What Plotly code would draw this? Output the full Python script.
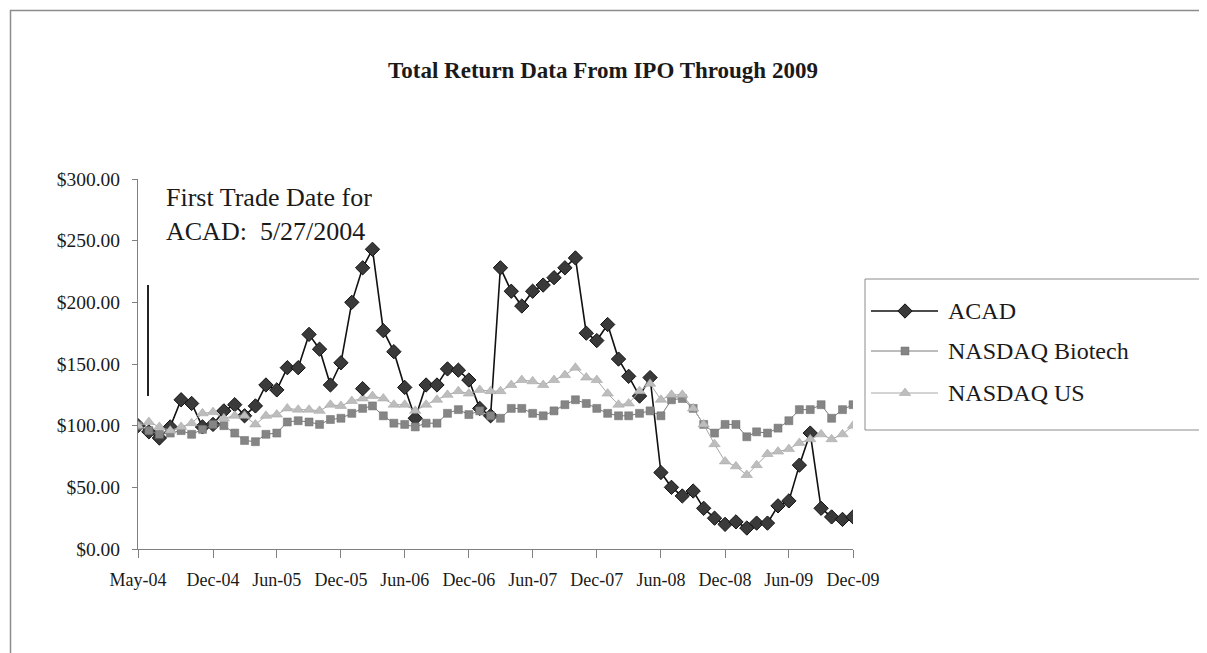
import pandas as pd
import plotly.graph_objects as go

# ---- data ----
months = pd.date_range("2004-05-01", "2009-12-01", freq="MS")

acad = [100, 95, 90, 99, 121, 118, 99, 101, 112, 117, 108, 116, 133, 129, 147, 147, 174, 162, 133, 151,
        200, 228, 243, 177, 160, 131, 106, 133, 133, 146, 145, 137, 114, 108, 228, 209, 197, 209, 214, 220,
        228, 236, 175, 169, 182, 154, 140, 124, 139, 62, 50, 43, 47, 33, 25, 20, 22, 17, 21, 21,
        35, 39, 68, 94, 33, 26, 24, 26]
biotech = [100, 96, 93, 94, 96, 93, 97, 101, 100, 94, 88, 87, 93, 94, 103, 104, 103, 101, 105, 106,
           110, 114, 116, 108, 102, 101, 99, 102, 102, 110, 113, 109, 112, 108, 106, 114, 114, 110, 108, 112,
           117, 121, 118, 114, 110, 108, 108, 110, 112, 108, 121, 122, 114, 101, 94, 101, 101, 91, 95, 94,
           98, 104, 113, 113, 117, 106, 113, 117]
nasdaq_us = [100, 103, 99, 96, 99, 102, 110, 111, 106, 108, 108, 101, 108, 109, 114, 113, 113, 112, 117, 116,
             120, 122, 124, 122, 117, 117, 112, 117, 121, 125, 128, 126, 129, 128, 128, 133, 137, 136, 133, 137,
             141, 147, 139, 137, 126, 117, 118, 128, 134, 121, 125, 125, 114, 101, 85, 71, 67, 60, 68, 77,
             79, 81, 86, 89, 93, 89, 93, 100]

# stray ACAD marker visible in the reference (Feb-06)
stray_x = ["2006-02-01"]
stray_y = [130]

series_names = ["ACAD", "NASDAQ Biotech", "NASDAQ US"]

tick_dates = ["2004-05-01", "2004-12-01", "2005-06-01", "2005-12-01", "2006-06-01", "2006-12-01",
              "2007-06-01", "2007-12-01", "2008-06-01", "2008-12-01", "2009-06-01", "2009-12-01"]
tick_text = ["May-04", "Dec-04", "Jun-05", "Dec-05", "Jun-06", "Dec-06",
             "Jun-07", "Dec-07", "Jun-08", "Dec-08", "Jun-09", "Dec-09"]
y_ticks = [0, 50, 100, 150, 200, 250, 300]
y_tick_text = ["$0.00", "$50.00", "$100.00", "$150.00", "$200.00", "$250.00", "$300.00"]

# ---- layout geometry (pixels) ----
W, H = 1207, 653
PX0, PX1, PY_TOP, PY_BOT = 130, 845, 171, 541          # plot area
LG_X0, LG_X1, LG_Y0, LG_Y1 = 857, 1197, 271, 422       # legend box

def fx(x):
    return x / W

def fy(y):
    return (H - y) / H

SERIF = "Liberation Serif, Times New Roman, serif"
TXT = "#1a1a1a"

styles = [
    dict(line=dict(color="#111111", width=1.6),
         marker=dict(symbol="diamond", size=11, color="#3a3a3a", line=dict(color="#111111", width=1))),
    dict(line=dict(color="#7a7a7a", width=1),
         marker=dict(symbol="square", size=8, color="#858585", line=dict(color="#6e6e6e", width=0.5))),
    dict(line=dict(color="#a8a8a8", width=1),
         marker=dict(symbol="triangle-up", size=10, color="#bdbdbd", line=dict(color="#a0a0a0", width=0.5))),
]

fig = go.Figure()
for name, vals, st in zip(series_names, [acad, biotech, nasdaq_us], styles):
    fig.add_trace(go.Scatter(x=months, y=vals, name=name, mode="lines+markers",
                             line=st["line"], marker=st["marker"], showlegend=False))
fig.add_trace(go.Scatter(x=stray_x, y=stray_y, mode="markers", showlegend=False,
                         marker=styles[0]["marker"]))

# ---- hand-built legend on a hidden pixel-unit axis pair ----
legend_rows = [303, 343, 385]
for name, st, ry in zip(series_names, styles, legend_rows):
    fig.add_trace(go.Scatter(x=[863, 930], y=[ry, ry], mode="lines", line=st["line"],
                             xaxis="x2", yaxis="y2", showlegend=False, hoverinfo="skip"))
    fig.add_trace(go.Scatter(x=[897], y=[ry], mode="markers", marker=st["marker"],
                             xaxis="x2", yaxis="y2", showlegend=False, hoverinfo="skip"))

annotations = [
    dict(text="First Trade Date for<br>ACAD:  5/27/2004", xref="paper", yref="paper",
         x=fx(156), y=fy(173), xanchor="left", yanchor="top", align="left",
         showarrow=False, font=dict(family=SERIF, size=26, color=TXT)),
]
for name, ry in zip(series_names, legend_rows):
    annotations.append(dict(text=name, xref="x2", yref="y2", x=938, y=ry, xanchor="left",
                            yanchor="middle", showarrow=False,
                            font=dict(family=SERIF, size=24, color=TXT)))

fig.update_layout(
    template="none",
    width=W, height=H,
    margin=dict(l=0, r=0, t=0, b=0, pad=0),
    paper_bgcolor="white", plot_bgcolor="white",
    font=dict(family=SERIF, color=TXT),
    showlegend=False,
    title=dict(text="<b>Total Return Data From IPO Through 2009</b>",
               x=fx(595), xanchor="center", xref="container", y=fy(62), yanchor="middle", yref="container",
               font=dict(family=SERIF, size=23, color=TXT)),
    xaxis=dict(type="date", domain=[fx(PX0), fx(PX1)], range=["2004-05-01", "2009-12-01"],
               tickvals=tick_dates, ticktext=tick_text, automargin=False,
               showgrid=False, zeroline=False, showline=True, linecolor="#808080", linewidth=1,
               ticks="outside", ticklen=8, tickcolor="#808080", ticklabelstandoff=6,
               tickfont=dict(family=SERIF, size=18, color=TXT)),
    yaxis=dict(domain=[fy(PY_BOT), fy(PY_TOP)], range=[0, 300], tickvals=y_ticks, ticktext=y_tick_text,
               automargin=False,
               showgrid=False, zeroline=False, showline=True, linecolor="#808080", linewidth=1,
               ticks="outside", ticklen=5, tickcolor="#808080", ticklabelstandoff=8,
               tickfont=dict(family=SERIF, size=19.5, color=TXT)),
    xaxis2=dict(domain=[fx(LG_X0), fx(LG_X1)], range=[LG_X0, LG_X1], visible=False,
                anchor="y2", fixedrange=True),
    yaxis2=dict(domain=[fy(LG_Y1), fy(LG_Y0)], range=[LG_Y1, LG_Y0], visible=False,
                anchor="x2", fixedrange=True),
    annotations=annotations,
    shapes=[
        # legend frame
        dict(type="rect", xref="paper", yref="paper", x0=fx(LG_X0), x1=fx(LG_X1),
             y0=fy(LG_Y1), y1=fy(LG_Y0), line=dict(color="#8c8c8c", width=1)),
        # outer chart frame
        dict(type="rect", xref="paper", yref="paper", x0=fx(2.5), x1=fx(1204),
             y0=fy(650), y1=fy(2.5), line=dict(color="#8c8c8c", width=1.5)),
        # stray vertical mark near the y axis
        dict(type="line", xref="paper", yref="paper", x0=fx(140), x1=fx(140),
             y0=fy(388), y1=fy(277), line=dict(color="#222222", width=2)),
    ],
)

fig.write_html("out.html")
